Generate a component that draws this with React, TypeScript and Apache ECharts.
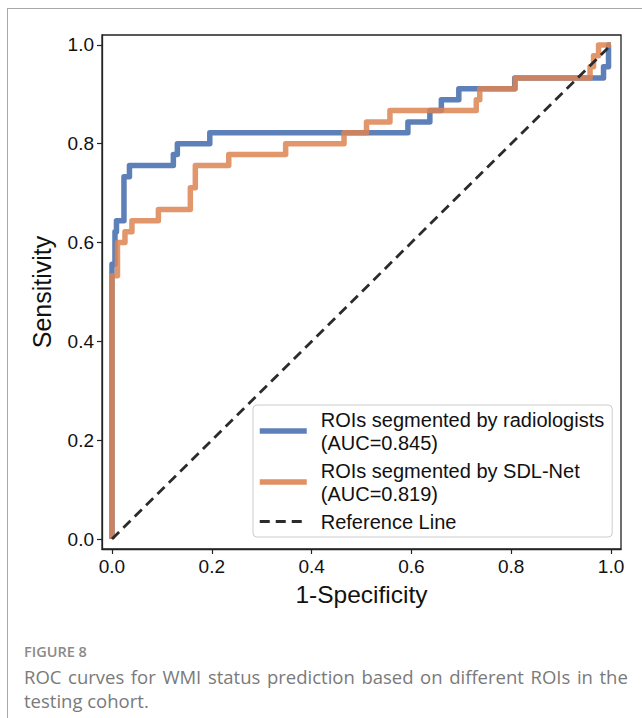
import React, { useEffect, useRef } from "react";
import * as echarts from "echarts";

// ROC curve for ROIs segmented by radiologists (AUC=0.845)
const fprRadiologists = [0, 0, 0.006, 0.006, 0.009, 0.009, 0.024, 0.024, 0.035, 0.035, 0.123, 0.123, 0.131, 0.131, 0.196, 0.196, 0.593, 0.593, 0.637, 0.637, 0.66, 0.66, 0.695, 0.695, 0.807, 0.807, 0.985, 0.985, 0.995, 0.995, 1];
const tprRadiologists = [0, 0.556, 0.556, 0.622, 0.622, 0.644, 0.644, 0.733, 0.733, 0.756, 0.756, 0.778, 0.778, 0.8, 0.8, 0.822, 0.822, 0.844, 0.844, 0.867, 0.867, 0.889, 0.889, 0.911, 0.911, 0.933, 0.933, 0.956, 0.956, 1, 1];

// ROC curve for ROIs segmented by SDL-Net (AUC=0.819)
const fprSdlNet = [0, 0, 0.011, 0.011, 0.026, 0.026, 0.04, 0.04, 0.093, 0.093, 0.157, 0.157, 0.167, 0.167, 0.234, 0.234, 0.348, 0.348, 0.465, 0.465, 0.51, 0.51, 0.557, 0.557, 0.73, 0.73, 0.737, 0.737, 0.808, 0.808, 0.958, 0.958, 0.965, 0.965, 0.975, 0.975, 1];
const tprSdlNet = [0, 0.533, 0.533, 0.6, 0.6, 0.622, 0.622, 0.644, 0.644, 0.667, 0.667, 0.711, 0.711, 0.756, 0.756, 0.778, 0.778, 0.8, 0.8, 0.822, 0.822, 0.844, 0.844, 0.867, 0.867, 0.889, 0.889, 0.911, 0.911, 0.933, 0.933, 0.956, 0.956, 0.978, 0.978, 1, 1];

// Reference (chance) line
const refX = [0, 1];
const refY = [0, 1];

const seriesNames = [
  "ROIs segmented by radiologists\n(AUC=0.845)",
  "ROIs segmented by SDL-Net\n(AUC=0.819)",
  "Reference Line",
];

const xAxisTitle = "1-Specificity";
const yAxisTitle = "Sensitivity";
const figureLabel = "FIGURE 8";
const captionLines = [
  "ROC curves for WMI status prediction based on different ROIs in the",
  "testing cohort.",
];

const zip = (xs: number[], ys: number[]) => xs.map((x, i) => [x, ys[i]]);

export default function App() {
  const ref = useRef<HTMLDivElement>(null);

  useEffect(() => {
    if (!ref.current) return;
    const chart = echarts.init(ref.current, null, { renderer: "svg" });
    const font = "'Liberation Sans', Arial, sans-serif";
    const capFont = "'Open Sans', 'Noto Sans', sans-serif";
    const blue = "#4C72B0";
    const orange = "#DD8452";
    const dark = "#2b2b2b";

    // justified first caption line: widen inter-word gaps slightly
    const justifiedLine = captionLines[0].split(" ").join("{sp| }");

    chart.setOption({
      animation: false,
      grid: {
        left: 102,
        top: 35,
        right: 21,
        bottom: 169,
        show: true,
        borderColor: "#222",
        borderWidth: 1.3,
        backgroundColor: "transparent",
      },
      xAxis: {
        type: "value",
        min: -0.02,
        max: 1.02,
        splitNumber: 5,
        name: xAxisTitle,
        nameLocation: "middle",
        nameGap: 33,
        nameTextStyle: { fontSize: 24.5, color: "#111", fontFamily: font },
        axisLine: { show: true, onZero: false, lineStyle: { color: "#222", width: 1.3 } },
        axisTick: { show: true, length: 5, lineStyle: { color: "#222", width: 1.2 } },
        axisLabel: {
          fontSize: 19,
          color: "#111",
          fontFamily: font,
          margin: 8,
          formatter: (v: number) => v.toFixed(1),
        },
        splitLine: { show: false },
      },
      yAxis: {
        type: "value",
        min: -0.02,
        max: 1.02,
        splitNumber: 5,
        name: yAxisTitle,
        nameLocation: "middle",
        nameGap: 48,
        nameTextStyle: { fontSize: 25, color: "#111", fontFamily: font },
        axisLine: { show: true, onZero: false, lineStyle: { color: "#222", width: 1.3 } },
        axisTick: { show: true, length: 5, lineStyle: { color: "#222", width: 1.2 } },
        axisLabel: {
          fontSize: 19,
          color: "#111",
          fontFamily: font,
          margin: 8,
          formatter: (v: number) => v.toFixed(1),
        },
        splitLine: { show: false },
      },
      legend: {
        orient: "vertical",
        left: 253,
        top: 405,
        itemWidth: 47,
        itemHeight: 14,
        itemGap: 5,
        padding: [3, 8, 4, 4],
        backgroundColor: "rgba(255,255,255,0.85)",
        borderColor: "#cccccc",
        borderWidth: 1,
        borderRadius: 4,
        itemStyle: { opacity: 0 },
        textStyle: {
          fontSize: 20,
          lineHeight: 23,
          color: "#111",
          fontFamily: font,
          padding: [0, 0, 0, 9],
        },
        data: [
          { name: seriesNames[0], lineStyle: { width: 5.5, color: blue, opacity: 0.9 } },
          { name: seriesNames[1], lineStyle: { width: 5.5, color: orange, opacity: 0.9 } },
          { name: seriesNames[2], lineStyle: { width: 3, color: dark, type: [10, 6] } },
        ],
      },
      series: [
        {
          name: seriesNames[0],
          type: "line",
          data: zip(fprRadiologists, tprRadiologists),
          symbol: "none",
          showSymbol: false,
          z: 2,
          lineStyle: { color: blue, width: 5.5, opacity: 0.9, join: "round" },
          itemStyle: { color: blue },
        },
        {
          name: seriesNames[1],
          type: "line",
          data: zip(fprSdlNet, tprSdlNet),
          symbol: "none",
          showSymbol: false,
          z: 3,
          lineStyle: { color: orange, width: 5.5, opacity: 0.85, join: "round" },
          itemStyle: { color: orange },
        },
        {
          name: seriesNames[2],
          type: "line",
          data: zip(refX, refY),
          symbol: "none",
          showSymbol: false,
          z: 4,
          lineStyle: { color: dark, width: 2.8, type: [10, 6] },
          itemStyle: { color: dark },
        },
      ],
      graphic: [
        {
          type: "line",
          shape: { x1: 7, y1: 8.5, x2: 642, y2: 8.5 },
          style: { stroke: "#a8a8a8", lineWidth: 1 },
          silent: true,
        },
        {
          type: "line",
          shape: { x1: 7.5, y1: 8, x2: 7.5, y2: 718 },
          style: { stroke: "#a8a8a8", lineWidth: 1 },
          silent: true,
        },
        {
          type: "text",
          left: 24,
          top: 644,
          style: {
            text: figureLabel,
            fontSize: 14.5,
            fontWeight: 600,
            fill: "#8a8a8a",
            fontFamily: capFont,
          },
        },
        {
          type: "text",
          left: 24,
          top: 664,
          style: {
            text: justifiedLine,
            fontSize: 18.5,
            lineHeight: 24,
            fill: "#7a7a7a",
            fontFamily: capFont,
            rich: {
              sp: {
                width: 6.6,
                fontSize: 18.5,
                fill: "#7a7a7a",
                fontFamily: capFont,
              },
            },
          },
        },
        {
          type: "text",
          left: 24,
          top: 688,
          style: {
            text: captionLines[1],
            fontSize: 18.5,
            lineHeight: 24,
            fill: "#7a7a7a",
            fontFamily: capFont,
          },
        },
      ],
    });

    return () => chart.dispose();
  }, []);

  return (
    <div
      ref={ref}
      style={{ position: "absolute", left: 0, top: 0, width: 642, height: 718 }}
    />
  );
}
